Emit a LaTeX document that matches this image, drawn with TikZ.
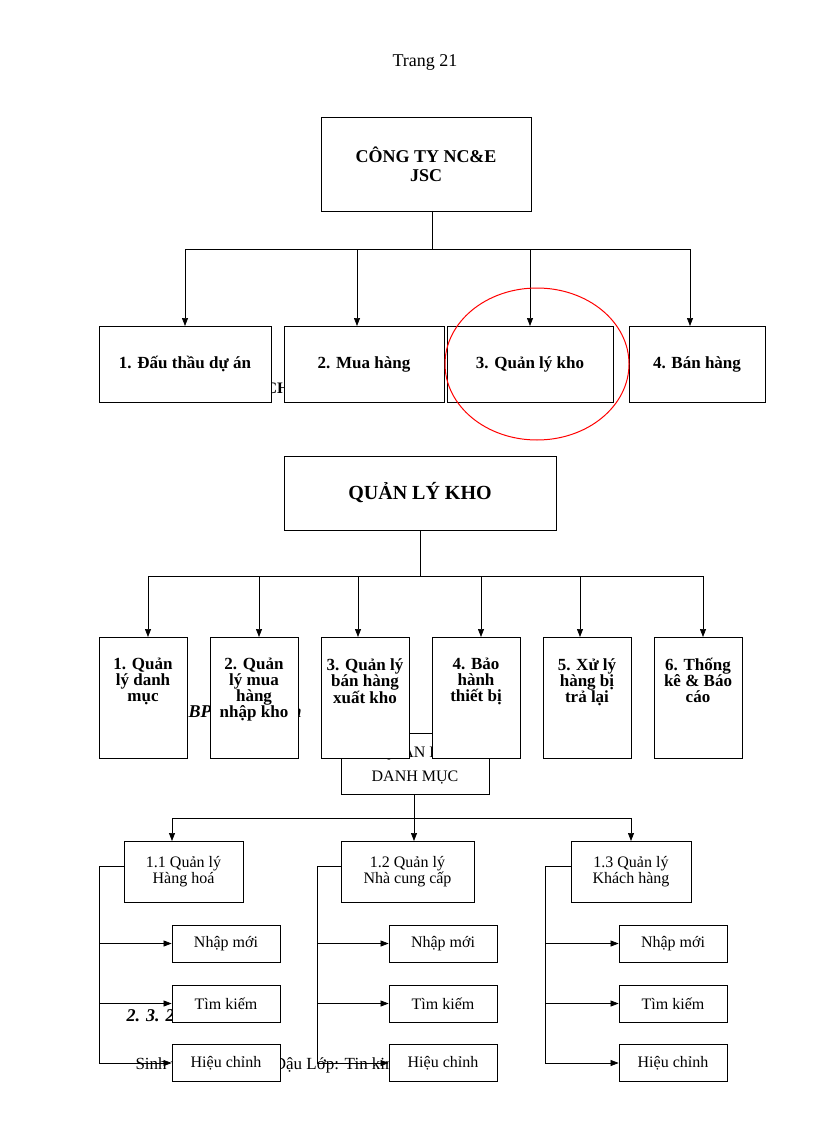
\documentclass[tikz,border=0pt]{standalone}
\usepackage{fontspec}
\setmainfont{Liberation Serif}
\usetikzlibrary{arrows.meta}
\begin{document}
\begin{tikzpicture}[x=1pt,y=-1pt,
 box/.style={draw,fill=white,line width=0.8pt,align=center,inner sep=2pt},
 big/.style={box,font=\bfseries\fontsize{18}{19}\selectfont},
 mid/.style={box,font=\bfseries\fontsize{17}{15}\selectfont},
 small/.style={box,font=\fontsize{16}{16}\selectfont},
 arr/.style={-{Triangle[length=8pt,width=6pt]},line width=0.7pt},
 ln/.style={line width=0.7pt}]
\useasboundingbox (0,0) rectangle (816,1123);
\node[font=\fontsize{18}{18}\selectfont] (pg) at (425,62) {Trang 21};
% hidden background texts
\node[font=\bfseries\fontsize{16}{18}\selectfont,anchor=west] (bg1) at (262,388) {CH};
\node[font=\bfseries\itshape\fontsize{18}{18}\selectfont,anchor=west] (bg2) at (185,711) {BP\hspace{70pt}nh};
\node[font=\bfseries\itshape\fontsize{18}{18}\selectfont,anchor=west] (bg3) at (123,1015) {2. 3. 2\hspace{50pt}rình 2};
\node[font=\fontsize{17}{18}\selectfont,anchor=west] (bg4) at (132,1065) {Sinh viên: Lê Ngọc Dậu Lớp: Tin kinh tế 41A};
% level 1
\node[big,minimum width=210pt,minimum height=94pt] (co) at (426,164) {CÔNG TY NC\&E\\JSC};
\node[mid,minimum width=172pt,minimum height=76pt] (a1) at (185,364) {1. Đấu thầu dự án};
\node[mid,minimum width=160pt,minimum height=76pt] (a2) at (364,364) {2. Mua hàng};
\node[mid,minimum width=166pt,minimum height=76pt] (a3) at (530,364) {3. Quản lý kho};
\node[mid,minimum width=136pt,minimum height=76pt] (a4) at (697,364) {4. Bán hàng};
\coordinate (j1) at (432,249);
\draw[ln] (432,211) -- (j1);
\draw[ln] (185,249) -- (690,249);
\draw[arr] (185,249) -- (185,326);
\draw[arr] (357,249) -- (357,326);
\draw[arr] (530,249) -- (530,326);
\draw[arr] (690,249) -- (690,326);
\draw[red,line width=1pt] (537,364) ellipse (92 and 76);
% level 2
\node[box,font=\bfseries\fontsize{20}{22}\selectfont,minimum width=272pt,minimum height=74pt] (qk) at (420,493) {QUẢN LÝ KHO};
\draw[ln] (420,530) -- (420,576);
\draw[ln] (148,576) -- (703,576);
\foreach \x in {148,259,358,481,580,703} \draw[arr] (\x,576) -- (\x,637);
\node[small,minimum width=148pt,minimum height=61pt] (dm) at (415,763.5) {\raisebox{8pt}{QUẢN LÝ}\\DANH MỤC};
\foreach \n/\x/\t in {b1/143/{1. Quản\\lý danh\\mục},b2/254/{2. Quản\\lý mua\\hàng\\nhập kho},b3/365/{3. Quản lý\\bán hàng\\xuất kho},b4/476/{4. Bảo\\hành\\thiết bị},b5/587/{5. Xử lý\\hàng bị\\trả lại},b6/698/{6. Thống\\kê \& Báo\\cáo}}{
 \node[box,minimum width=88pt,minimum height=121pt] (\n) at (\x,697.5) {};
 \node[align=center,anchor=north,inner sep=0pt,font=\bfseries\fontsize{17}{16}\selectfont] (\n t) at (\x,658) {\t};
}
% level 3
\draw[ln] (414,794) -- (414,818);
\draw[ln] (172,818) -- (631,818);
\foreach \x in {172,414,631} \draw[arr] (\x,818) -- (\x,841);
\foreach \n/\cx/\w/\sx/\lx/\t in {c1/183.5/119/99/226/{1.1 Quản lý\\Hàng hoá},c2/407.5/133/317/443/{1.2 Quản lý\\Nhà cung cấp},c3/631/120/545/673/{1.3 Quản lý\\Khách hàng}}{
 \node[small,minimum width=\w pt,minimum height=61pt] (\n) at (\cx,871.5) {\t};
 \draw[ln] (\n.west |- 0,866) -- (\sx,866) -- (\sx,1063);
 \node[small,minimum width=108pt,minimum height=37pt] (\n a) at (\lx,943.5) {Nhập mới};
 \node[small,minimum width=108pt,minimum height=37pt] (\n b) at (\lx,1003.5) {Tìm kiếm};
 \node[small,minimum width=108pt,minimum height=37pt] (\n c) at (\lx,1063) {Hiệu chỉnh};
 \draw[arr] (\sx,943.5) -- (\n a.west);
 \draw[arr] (\sx,1003.5) -- (\n b.west);
 \draw[arr] (\sx,1063) -- (\n c.west);
}
\end{tikzpicture}
\end{document}
